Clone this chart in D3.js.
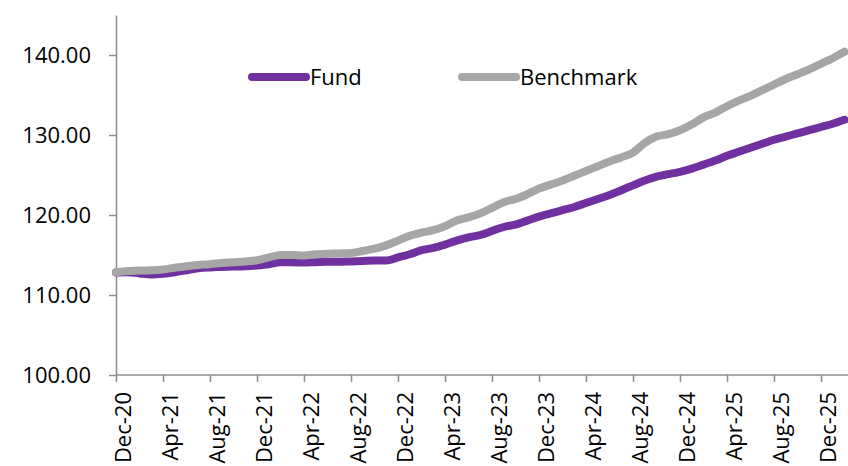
<!DOCTYPE html>
<html>
<head>
<meta charset="utf-8">
<script src="https://cdn.jsdelivr.net/npm/d3@7"></script>
<style>
  body { margin: 0; background: #fff; overflow: hidden; }
  text { font-family: "Open Sans", sans-serif; fill: #000; }
</style>
</head>
<body>
<svg width="848" height="466"></svg>
<script>
// monthly points, Dec-20 .. Feb-26
var months = ["Jan","Feb","Mar","Apr","May","Jun","Jul","Aug","Sep","Oct","Nov","Dec"];
var categories = ["Dec-20"];
for (var yr = 21; yr <= 26; yr++) {
    months.forEach(function (m, i) {
        if (yr === 26 && i > 1) return;
        categories.push(m + "-" + yr);
    });
}

var fund = [112.8, 112.85, 112.7, 112.55, 112.65, 112.85, 113.1, 113.35, 113.45, 113.5,
    113.55, 113.6, 113.7, 113.85, 114.1, 114.1, 114.05, 114.1, 114.15, 114.15,
    114.2, 114.25, 114.3, 114.3, 114.7, 115.1, 115.6, 115.9, 116.3, 116.8,
    117.2, 117.5, 118.0, 118.5, 118.8, 119.3, 119.8, 120.2, 120.6, 121.0,
    121.5, 122.0, 122.5, 123.1, 123.7, 124.3, 124.8, 125.1, 125.4, 125.8,
    126.3, 126.8, 127.4, 127.9, 128.4, 128.9, 129.4, 129.8, 130.2, 130.6,
    131.0, 131.4, 131.9];

var benchmark = [112.85, 113.0, 113.05, 113.1, 113.2, 113.4, 113.6, 113.75, 113.85, 114.0,
    114.1, 114.2, 114.35, 114.7, 115.0, 115.0, 114.95, 115.1, 115.15, 115.2,
    115.25, 115.5, 115.8, 116.2, 116.8, 117.4, 117.8, 118.1, 118.6, 119.3,
    119.7, 120.2, 120.9, 121.6, 122.0, 122.6, 123.3, 123.8, 124.3, 124.9,
    125.5, 126.1, 126.7, 127.2, 127.8, 129.0, 129.8, 130.1, 130.6, 131.3,
    132.2, 132.8, 133.6, 134.3, 134.9, 135.6, 136.3, 137.0, 137.6, 138.2,
    138.9, 139.6, 140.4];

var yTicks = [100, 110, 120, 130, 140];
var xTickLabels = categories.filter(function (d, i) { return i % 4 === 0; });

var seriesNames = ["Fund", "Benchmark"];
var colors = ["#7030A0", "#A6A6A6"];

var svg = d3.select("svg");
var width = +svg.attr("width");
var plotLeft = 116, plotBottom = 375, plotTop = 15;

var x = d3.scalePoint().domain(categories).range([plotLeft, plotLeft + 62 * 11.75]);
var y = d3.scaleLinear().domain([100, 145]).range([plotBottom, plotTop]);

// y axis
var yAxis = svg.append("g")
    .attr("transform", "translate(" + plotLeft + ",0)")
    .call(d3.axisLeft(y).tickValues(yTicks).tickFormat(d3.format(".2f"))
        .tickSize(7).tickSizeOuter(0).tickPadding(18));
yAxis.selectAll("text").attr("font-size", "22px").attr("font-family", "Open Sans, sans-serif").attr("fill", "#000");
yAxis.selectAll("line, path").attr("stroke", "#8c8c8c").attr("stroke-width", 1.5);

// x axis
var xAxis = svg.append("g")
    .attr("transform", "translate(0," + plotBottom + ")")
    .call(d3.axisBottom(x).tickValues(xTickLabels).tickSize(7).tickSizeOuter(0));
xAxis.select(".domain").remove();
xAxis.append("line")
    .attr("x1", plotLeft).attr("x2", width)
    .attr("stroke", "#8c8c8c").attr("stroke-width", 1.5);
xAxis.selectAll("line").attr("stroke", "#8c8c8c").attr("stroke-width", 1.5);
xAxis.selectAll("text")
    .attr("font-size", "22px")
    .attr("font-family", "Open Sans, sans-serif")
    .attr("fill", "#000")
    .attr("text-anchor", "end")
    .attr("transform", "translate(7,17) rotate(-90)")
    .attr("x", 0).attr("y", 0).attr("dy", "0.36em");

// lines (benchmark drawn last, on top)
var line = d3.line()
    .x(function (d, i) { return x(categories[i]); })
    .y(function (d) { return y(d); })
    .curve(d3.curveMonotoneX);

[fund, benchmark].forEach(function (s, k) {
    svg.append("path")
        .datum(s)
        .attr("fill", "none")
        .attr("stroke", colors[k])
        .attr("stroke-width", 8)
        .attr("stroke-linecap", "round")
        .attr("stroke-linejoin", "round")
        .attr("d", line);
});

// legend
var legendX = [252, 462];
seriesNames.forEach(function (name, i) {
    var g = svg.append("g").attr("transform", "translate(" + legendX[i] + ",77)");
    g.append("line")
        .attr("x1", 0).attr("x2", 54)
        .attr("stroke", colors[i]).attr("stroke-width", 8)
        .attr("stroke-linecap", "round");
    g.append("text")
        .attr("x", 58).attr("y", 0).attr("dy", "0.36em")
        .attr("font-size", "22px")
        .text(name);
});
</script>
</body>
</html>
